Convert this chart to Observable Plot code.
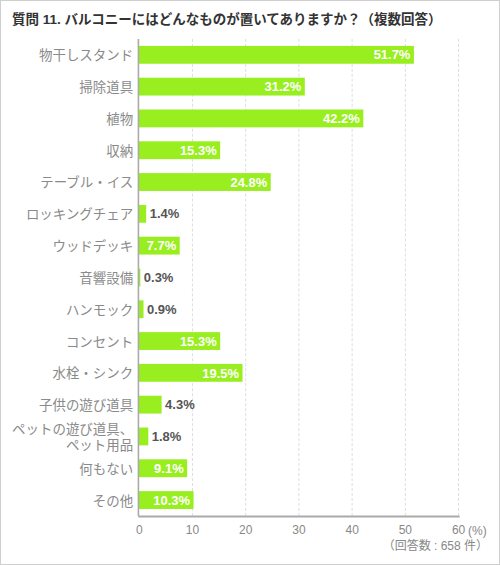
<!DOCTYPE html>
<html><head><meta charset="utf-8">
<script src="https://cdn.jsdelivr.net/npm/d3@7"></script>
<script src="https://cdn.jsdelivr.net/npm/@observablehq/plot@0.6"></script>
<style>
body{margin:0;background:#fff;}
#frame{position:relative;width:498px;height:563px;border:1px solid #cfcfcf;overflow:hidden;font-family:"Liberation Sans","Noto Sans CJK JP",sans-serif;}
#title{position:absolute;left:11px;top:11px;font-size:13.5px;font-weight:bold;color:#333;white-space:nowrap;line-height:16px;}
#chart{position:absolute;left:-1px;top:-1px;}
#unit{position:absolute;left:467px;top:522px;font-size:12px;color:#888;line-height:16px;}
#note{position:absolute;right:11px;top:537px;font-size:12px;color:#888;line-height:16px;white-space:nowrap;}
</style></head>
<body>
<div id="frame">
<div id="title">質問 11. バルコニーにはどんなものが置いてありますか？（複数回答）</div>
<div id="chart"></div>
<div id="unit">(%)</div>
<div id="note">（回答数 : 658 件）</div>
</div>
<script>
const categories = ["物干しスタンド","掃除道具","植物","収納","テーブル・イス","ロッキングチェア","ウッドデッキ","音響設備","ハンモック","コンセント","水栓・シンク","子供の遊び道具","ペットの遊び道具、\nペット用品","何もない","その他"];
const values = [51.7,31.2,42.2,15.3,24.8,1.4,7.7,0.3,0.9,15.3,19.5,4.3,1.8,9.1,10.3];
const xTicks = [0,10,20,30,40,50,60];
const gridTicks = [10,20,30,40,50,60];

const data = categories.map((c,i)=>({cat:c, value:values[i]}));
const inside = data.filter(d=>d.value>=5);
const outside = data.filter(d=>d.value<5);
const green = "#98ee1e";
const font = "Liberation Sans, Noto Sans CJK JP, sans-serif";

const chart = Plot.plot({
  width: 500,
  height: 549,
  marginTop: 39,
  marginBottom: 32,
  marginLeft: 139,
  marginRight: 41,
  style: {fontFamily: font, background: "transparent", overflow: "visible"},
  x: {domain: [0,60], ticks: xTicks, label: null},
  y: {domain: categories, padding: 0, round: false, label: null},
  marks: [
    Plot.ruleX(gridTicks, {stroke: "#dddddd", strokeWidth: 1, strokeDasharray: "3,2"}),
    Plot.barX(data, {x: "value", y: "cat", fill: green, insetTop: 7, insetBottom: 7}),
    Plot.ruleX([0], {stroke: "#aaaaaa", strokeWidth: 1.6, dx: -0.8}),
    Plot.frame({anchor: "bottom", stroke: "#aaaaaa", strokeWidth: 2}),
    Plot.text(inside, {x: "value", y: "cat", text: d=>d.value.toFixed(1)+"%", textAnchor: "end", dx: -4, fill: "#fff", fontWeight: "bold", fontSize: 13, fontFamily: font}),
    Plot.text(outside, {x: "value", y: "cat", text: d=>d.value.toFixed(1)+"%", textAnchor: "start", dx: 3, fill: "#555", fontWeight: "bold", fontSize: 13, fontFamily: font}),
    Plot.axisY({tickSize: 0, tickPadding: 6, fontSize: 13.5, fill: "#8a8a8a", lineHeight: 1.15, label: null}),
    Plot.axisX({ticks: xTicks, tickSize: 0, tickPadding: 9, fontSize: 12, fill: "#888", label: null})
  ]
});
document.getElementById("chart").appendChild(chart);
</script>
</body></html>
